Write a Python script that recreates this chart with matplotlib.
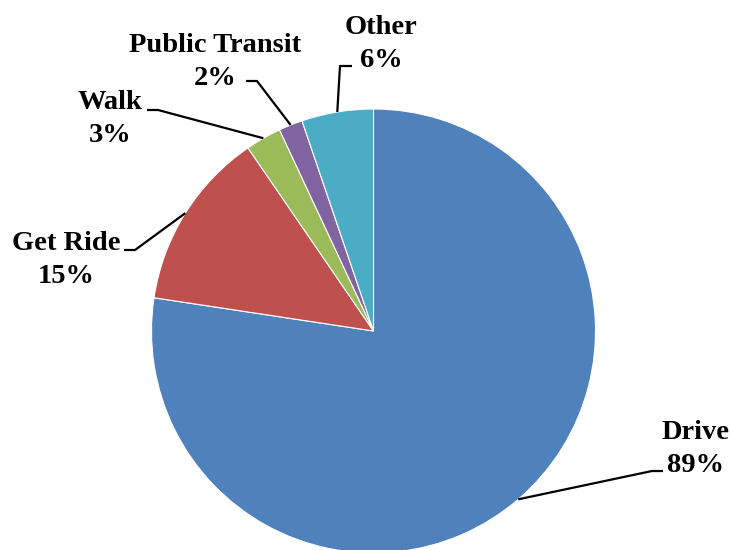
import numpy as np
import matplotlib
matplotlib.use('Agg')
import matplotlib.pyplot as plt

# data
labels = ['Drive', 'Get Ride', 'Walk', 'Public Transit', 'Other']
values = [89, 15, 3, 2, 6]
colors = ['#4F81BD', '#C0504D', '#9BBB59', '#8064A2', '#4BACC6']

H = 550
cx, cy, r = 373.5, H - 331, 222

# label text centre and leader elbow (pixels, y down)
text_pos = {'Drive': (696, 449), 'Get Ride': (66, 260), 'Walk': (110, 119),
            'Public Transit': (215, 62), 'Other': (381, 44)}
elbow = {'Drive': (652, 663, 471), 'Get Ride': (135, 124, 250), 'Walk': (158, 147, 110),
         'Public Transit': (257, 246, 81), 'Other': (340, 352, 66)}

fig = plt.figure(figsize=(7.3, 5.5), dpi=100)
ax = fig.add_axes([0, 0, 1, 1])

wedges, _ = ax.pie(values, colors=colors, startangle=90, counterclock=False,
                   center=(cx, cy), radius=r, frame=True,
                   wedgeprops=dict(edgecolor='white', linewidth=0.8))
ax.set_xlim(0, 730)
ax.set_ylim(0, H)
ax.set_aspect('equal')
ax.axis('off')

for w, lab, v in zip(wedges, labels, values):
    mid = np.deg2rad((w.theta1 + w.theta2) / 2)
    px = cx + r * np.cos(mid)
    py = cy + r * np.sin(mid)
    ex, hx, ey = elbow[lab]
    ax.plot([px, ex, hx], [py, H - ey, H - ey], color='black', lw=1.6,
            solid_capstyle='butt')
    tx, ty = text_pos[lab]
    ax.text(tx, H - ty, '%s\n%d%%' % (lab, v), ha='center', va='center',
            multialignment='center', fontsize=20.5, fontweight='bold',
            family='Liberation Serif', linespacing=1.38)

plt.savefig('out.png', dpi=100)
